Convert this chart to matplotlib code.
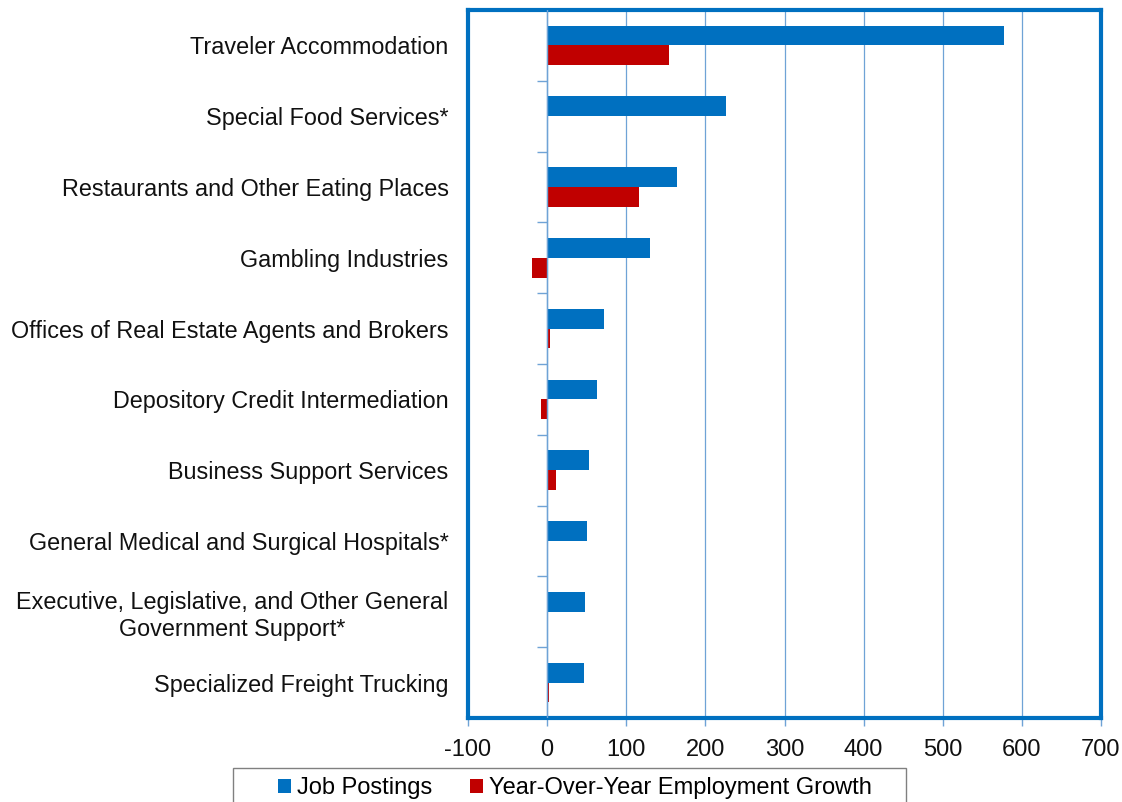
import matplotlib
matplotlib.use("Agg")
import matplotlib.pyplot as plt
from matplotlib.patches import Patch, Rectangle
import numpy as np

plt.rcParams['font.family'] = ['Liberation Sans', 'DejaVu Sans']

categories = [
    "Traveler Accommodation",
    "Special Food Services*",
    "Restaurants and Other Eating Places",
    "Gambling Industries",
    "Offices of Real Estate Agents and Brokers",
    "Depository Credit Intermediation",
    "Business Support Services",
    "General Medical and Surgical Hospitals*",
    "Executive, Legislative, and Other General\nGovernment Support*",
    "Specialized Freight Trucking",
]
job_postings = [578, 226, 164, 130, 72, 63, 53, 50, 48, 46]
yoy_growth = [154, 0, 116, -19, 4, -8, 11, 0, 0, 2]
series_names = ["Job Postings", "Year-Over-Year Employment Growth"]
x_ticks = [-100, 0, 100, 200, 300, 400, 500, 600, 700]

BLUE = "#0070c0"
RED = "#c00000"
GRID = "#6fa3d6"

fig = plt.figure(figsize=(11.22, 8.02), dpi=100)
W, H = 1122, 802
ax = fig.add_axes([468 / W, 1 - 718 / H, (1101 - 468) / W, (718 - 10) / H])

y = np.arange(len(categories))
h = 0.28
ax.barh(y - h / 2, job_postings, height=h, color=BLUE, zorder=3)
ax.barh(y + h / 2, yoy_growth, height=h, color=RED, zorder=3)

ax.set_xlim(-100, 700)
ax.set_ylim(len(categories) - 0.5, -0.5)

# grid and zero axis
for xv in x_ticks[1:-1]:
    ax.axvline(xv, color=GRID, lw=0.9, zorder=1)
ax.axvline(0, color=GRID, lw=1.0, zorder=4)
# category boundary ticks on zero axis
ax.plot([0] * (len(categories) - 1), np.arange(len(categories) - 1) + 0.5,
        linestyle='none', marker=0, markersize=7, markeredgewidth=1.0,
        color=GRID, zorder=4, clip_on=False)

ax.set_xticks(x_ticks)
ax.set_xticklabels([str(v) for v in x_ticks], fontsize=17, color="#111111")
ax.tick_params(axis='x', direction='out', length=6, width=1, color=GRID, pad=9)

ax.set_yticks(y)
ax.set_yticklabels(categories, fontsize=16.8, color="#111111", multialignment='center')
ax.tick_params(axis='y', length=0, pad=14)

for s in ax.spines.values():
    s.set_color(BLUE)
    s.set_linewidth(3)

# legend
fig.patches.append(Rectangle((233 / W, -0.05), (906 - 233) / W, 0.05 + (1 - 768 / H),
                             transform=fig.transFigure, facecolor='white',
                             edgecolor='#808080', lw=1.0))
handles = [Patch(facecolor=BLUE, edgecolor='none'), Patch(facecolor=RED, edgecolor='none')]
fig.legend(handles, series_names, loc='center', bbox_to_anchor=(575 / W, 1 - 788 / H),
           ncol=2, frameon=False, fontsize=17, handlelength=0.55, handleheight=0.55,
           handletextpad=0.25, columnspacing=1.6, borderpad=0, borderaxespad=0)

fig.savefig("out.png", dpi=100)
